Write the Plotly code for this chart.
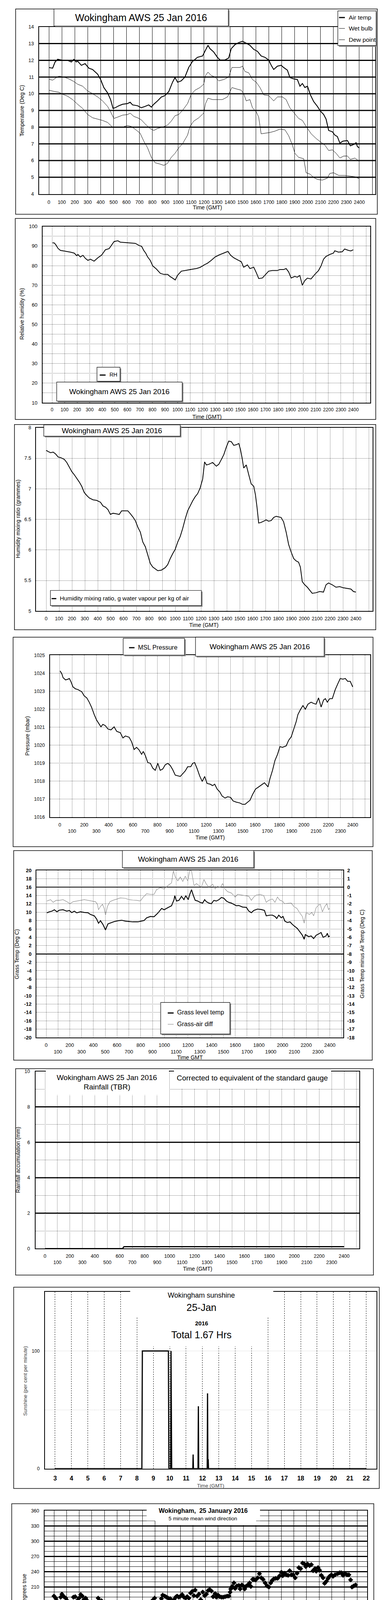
import numpy as np
import plotly.graph_objects as go

# ======================= DATA =======================
# Panel 1: temperatures (time HHMM-style, deg C)
air_temp = [(0,11.57),(29,11.53),(48,11.9),(68,12.06),(106,12.0),(145,12.0),(174,11.9),(193,12.06),(212,11.9),(222,11.95),
            (251,11.7),(280,11.8),(309,11.53),(338,11.45),(377,11.17),(400,10.85),(425,10.37),(454,10.05),(477,9.65),(496,9.12),
            (512,9.16),(541,9.28),(570,9.37),(608,9.41),(628,9.49),(647,9.33),(686,9.28),(714,9.16),(743,9.24),(772,9.33),
            (792,9.2),(811,9.37),(840,9.57),(869,9.8),(898,9.89),(927,10.13),(956,10.69),(975,10.97),(995,10.69),(1023,10.77),
            (1052,11.0),(1081,11.57),(1110,11.93),(1149,12.18),(1188,12.26),(1211,12.62),(1230,12.9),(1245,12.7),(1274,12.5),(1303,12.18),
            (1323,12.02),(1361,12.02),(1390,12.14),(1410,12.7),(1439,12.94),(1468,13.06),(1497,13.14),(1526,13.02),(1554,12.9),(1583,12.66),
            (1612,12.54),(1641,12.26),(1670,12.18),(1699,12.02),(1719,11.7),(1738,11.45),(1767,11.65),(1796,11.7),(1815,11.57),(1844,11.41),
            (1863,10.97),(1892,10.89),(1921,10.85),(1941,10.45),(1960,10.61),(1979,10.37),(1999,10.45),(2022,9.93),(2047,9.53),(2076,9.24),
            (2099,8.96),(2124,8.76),(2143,8.48),(2163,7.8),(2192,7.72),(2211,7.52),(2230,7.44),(2250,7.04),(2273,7.16),(2308,7.2),
            (2331,6.88),(2366,7.0),(2375,7.08),(2385,6.84),(2400,6.75)]
wet_bulb = [(0,10.87),(29,10.81),(58,10.97),(77,11.05),(116,11.0),(154,10.89),(193,10.73),(222,10.57),(261,10.45),(299,10.17),
            (338,10.0),(377,9.81),(415,9.57),(454,9.24),(477,8.92),(502,8.52),(531,8.6),(570,8.72),(608,8.75),(628,8.84),
            (657,8.64),(686,8.56),(714,8.44),(743,8.2),(782,7.92),(811,7.8),(840,7.92),(879,8.0),(917,8.12),(946,8.36),
            (975,8.68),(1004,8.76),(1033,9.0),(1072,9.41),(1101,9.97),(1130,10.21),(1168,10.37),(1197,10.57),(1211,11.09),(1230,11.29),
            (1255,11.09),(1284,11.0),(1313,10.77),(1352,10.85),(1390,11.0),(1415,11.57),(1448,11.57),(1477,11.57),(1497,11.65),(1516,11.33),
            (1545,11.25),(1574,10.85),(1603,10.69),(1632,10.37),(1661,9.93),(1699,9.89),(1738,9.57),(1767,9.81),(1805,9.81),(1834,9.65),
            (1863,9.16),(1892,8.88),(1931,8.52),(1960,8.4),(1989,8.04),(2028,7.6),(2066,7.32),(2099,7.12),(2134,6.92),(2163,6.6),
            (2192,6.64),(2221,6.43),(2250,6.15),(2279,6.27),(2308,6.27),(2331,6.07),(2366,6.15),(2400,5.95)]
dew_point = [(0,10.21),(39,10.14),(77,10.09),(106,9.97),(145,9.85),(183,9.65),(222,9.37),(261,9.12),(299,8.76),(338,8.56),
             (377,8.48),(415,8.4),(454,8.28),(492,8.0),(531,8.0),(570,8.0),(608,8.1),(637,8.04),(666,7.88),(705,7.64),
             (734,7.16),(763,6.76),(792,6.19),(821,5.87),(859,5.79),(888,5.71),(917,5.83),(946,6.19),(975,6.43),(1004,6.76),
             (1033,7.0),(1072,7.52),(1091,8.04),(1120,8.36),(1159,8.56),(1197,8.84),(1211,9.41),(1230,9.73),(1265,9.65),(1303,9.65),
             (1342,9.65),(1381,9.81),(1415,10.37),(1448,10.29),(1487,10.21),(1506,10.0),(1526,9.57),(1554,9.65),(1574,9.16),(1603,8.92),
             (1622,8.6),(1641,7.6),(1670,7.64),(1709,7.68),(1748,7.76),(1786,7.88),(1825,7.84),(1854,7.48),(1883,6.92),(1902,6.43),
             (1931,6.19),(1970,6.11),(1989,5.27),(2018,5.19),(2047,4.99),(2076,4.87),(2114,4.83),(2153,4.95),(2172,5.23),(2201,5.27),
             (2240,5.11),(2288,5.11),(2327,5.07),(2366,5.03),(2400,4.91)]

# Panel 2: relative humidity (%)
rel_hum = [(4,91.7),(18,91.6),(32,90.5),(48,88.8),(67,87.8),(87,87.6),(117,87.3),(147,86.9),(177,86.4),(197,85.1),
           (206,85.7),(226,84.4),(246,85.3),(266,83.7),(286,82.7),(306,83.3),(335,82.3),(365,84.0),(395,85.4),(425,88.1),
           (455,88.7),(474,90.5),(494,92.3),(524,92.7),(544,92.0),(584,91.8),(623,91.6),(663,91.4),(693,90.3),(713,89.9),
           (732,87.6),(746,86.4),(762,84.4),(782,82.7),(802,79.9),(832,78.2),(862,76.1),(891,75.5),(921,75.5),(941,74.4),
           (961,73.6),(981,72.7),(1000,75.1),(1030,77.2),(1060,77.5),(1090,77.9),(1120,78.2),(1149,78.5),(1179,79.1),(1209,80.3),
           (1239,81.3),(1268,82.7),(1298,84.4),(1328,85.4),(1358,86.2),(1388,86.9),(1401,87.3),(1421,85.4),(1447,84.0),(1477,83.0),
           (1507,82.0),(1526,79.2),(1556,80.4),(1576,78.5),(1606,79.2),(1626,76.5),(1646,73.4),(1675,73.7),(1695,75.1),(1725,77.2),
           (1755,77.5),(1794,77.5),(1814,78.0),(1844,78.0),(1864,78.5),(1884,76.8),(1904,73.7),(1933,74.5),(1953,74.1),(1973,75.0),
           (1993,70.0),(2013,72.4),(2033,73.6),(2062,73.2),(2092,75.5),(2122,77.5),(2142,79.9),(2162,83.3),(2181,84.7),(2211,85.7),
           (2241,86.4),(2251,87.6),(2281,86.9),(2311,87.1),(2330,88.5),(2360,87.8),(2380,87.5),(2390,87.9),(2400,88.0)]

# Panel 3: humidity mixing ratio (g/kg)
mix_ratio = [(0,7.63),(15,7.61),(35,7.59),(54,7.6),(73,7.57),(93,7.52),(112,7.51),(141,7.48),(160,7.43),(180,7.35),
             (199,7.28),(218,7.23),(238,7.17),(257,7.11),(276,7.04),(295,6.94),(315,6.89),(334,6.85),(363,6.82),(392,6.81),
             (421,6.78),(440,6.72),(460,6.7),(479,6.66),(498,6.58),(518,6.6),(546,6.59),(566,6.58),(585,6.64),(614,6.64),
             (633,6.64),(653,6.59),(672,6.54),(691,6.48),(711,6.37),(730,6.29),(749,6.13),(769,6.05),(788,5.91),(807,5.78),
             (826,5.72),(846,5.69),(865,5.66),(894,5.67),(923,5.71),(942,5.76),(962,5.86),(981,5.94),(1000,6.01),(1020,6.13),
             (1039,6.22),(1058,6.35),(1078,6.51),(1097,6.64),(1116,6.72),(1135,6.8),(1155,6.87),(1174,6.92),(1193,7.01),(1213,7.16),
             (1228,7.44),(1242,7.39),(1261,7.4),(1290,7.43),(1319,7.37),(1338,7.4),(1358,7.48),(1377,7.56),(1396,7.68),(1415,7.78),
             (1435,7.77),(1454,7.71),(1473,7.72),(1493,7.74),(1506,7.64),(1518,7.51),(1531,7.34),(1551,7.39),(1570,7.23),(1589,7.08),
             (1609,7.04),(1622,6.9),(1634,6.7),(1647,6.44),(1666,6.45),(1686,6.47),(1705,6.49),(1724,6.47),(1744,6.48),(1763,6.53),
             (1782,6.55),(1802,6.54),(1821,6.53),(1840,6.46),(1860,6.29),(1879,6.09),(1898,5.97),(1918,5.86),(1937,5.82),(1956,5.8),
             (1970,5.72),(1985,5.48),(2004,5.43),(2024,5.39),(2043,5.34),(2062,5.29),(2091,5.3),(2120,5.32),(2149,5.31),(2169,5.43),
             (2188,5.46),(2217,5.43),(2246,5.39),(2275,5.4),(2304,5.38),(2333,5.37),(2362,5.36),(2381,5.32),(2400,5.31)]

# Panel 4: MSL pressure (mbar)
msl_pressure = [(2,1024.13),(16,1023.98),(27,1023.75),(47,1023.63),(67,1023.67),(78,1023.71),(92,1023.52),(108,1023.24),(129,1023.13),(149,1023.09),
                (180,1022.97),(200,1022.74),(221,1022.63),(241,1022.39),(262,1022.08),(282,1021.7),(302,1021.39),(323,1021.16),(337,1021.02),(353,1021.16),
                (374,1021.08),(394,1020.9),(419,1020.85),(445,1021.02),(466,1020.77),(496,1020.69),(517,1020.4),(537,1020.51),(568,1020.44),(588,1020.19),
                (609,1019.76),(629,1019.88),(650,1019.73),(670,1019.49),(684,1019.65),(701,1019.42),(721,1019.03),(742,1018.99),(762,1018.72),(782,1018.6),
                (803,1018.99),(823,1018.6),(844,1018.68),(864,1018.91),(885,1018.99),(905,1018.87),(925,1018.64),(946,1018.33),(966,1018.29),(987,1018.26),
                (1007,1018.41),(1028,1018.57),(1048,1018.8),(1073,1018.8),(1089,1018.99),(1105,1019.03),(1126,1018.68),(1146,1018.29),(1167,1017.98),(1187,1018.26),
                (1207,1017.87),(1232,1017.83),(1252,1017.75),(1269,1017.83),(1289,1017.56),(1310,1017.41),(1330,1017.17),(1354,1017.06),(1375,1017.13),(1399,1017.1),
                (1420,1016.9),(1446,1016.83),(1473,1016.79),(1497,1016.71),(1518,1016.71),(1538,1016.83),(1559,1016.94),(1579,1017.25),(1604,1017.56),(1630,1017.68),
                (1651,1017.79),(1677,1017.91),(1692,1017.79),(1706,1017.68),(1722,1018.14),(1743,1018.6),(1763,1019.15),(1784,1019.49),(1804,1019.92),(1824,1019.88),
                (1855,1019.96),(1875,1020.27),(1896,1020.46),(1916,1020.89),(1937,1021.31),(1951,1021.7),(1971,1021.97),(1992,1022.2),(2012,1022.0),(2033,1022.28),
                (2059,1022.39),(2080,1022.32),(2100,1022.28),(2120,1022.63),(2141,1022.12),(2161,1022.51),(2176,1022.59),(2192,1022.39),(2212,1022.59),(2233,1022.59),
                (2257,1023.09),(2277,1023.4),(2298,1023.71),(2319,1023.67),(2339,1023.71),(2359,1023.55),(2380,1023.55),(2400,1023.24)]

# Panel 5: grass temperature (left axis) and grass minus air (right axis)
grass_temp = [(6,9.85),(27,10.1),(49,10.26),(70,10.59),(91,10.1),(112,10.49),(143,10.59),(175,10.26),(196,10.43),(217,9.9),
              (238,10.26),(259,9.85),(291,10.1),(323,9.94),(354,9.88),(375,9.46),(407,9.14),(428,8.34),(443,7.37),(460,7.95),
              (481,7.05),(502,5.77),(523,7.21),(544,7.44),(576,7.76),(607,7.95),(639,8.08),(671,7.86),(702,7.76),(734,7.69),
              (776,7.69),(808,7.86),(829,8.02),(850,8.66),(882,8.98),(913,8.92),(945,9.78),(977,10.91),(998,10.59),(1029,11.07),
              (1061,11.55),(1082,13.0),(1088,13.96),(1103,12.68),(1124,12.84),(1145,13.8),(1166,13.0),(1181,13.96),(1202,13.0),(1215,14.28),
              (1230,15.4),(1244,14.12),(1261,12.84),(1282,12.68),(1303,12.35),(1324,12.19),(1341,13.0),(1356,12.51),(1377,12.19),(1398,12.03),
              (1419,12.84),(1440,12.68),(1462,13.0),(1483,13.54),(1504,13.32),(1525,12.68),(1546,12.35),(1567,12.19),(1588,11.87),(1609,11.55),
              (1630,11.61),(1662,11.23),(1694,11.16),(1715,10.26),(1736,9.88),(1757,10.43),(1788,10.75),(1820,10.65),(1847,10.43),(1862,9.14),
              (1894,9.3),(1915,9.3),(1936,8.98),(1951,8.5),(1968,9.3),(1989,8.66),(2004,8.98),(2020,7.86),(2041,7.53),(2063,7.69),
              (2084,7.05),(2105,6.57),(2126,6.09),(2147,5.29),(2168,4.48),(2183,3.52),(2193,4.64),(2221,4.16),(2242,4.32),(2263,3.68),
              (2284,4.48),(2305,4.8),(2326,5.13),(2343,4.0),(2368,4.32),(2379,4.96),(2389,4.1),(2400,4.32)]
grass_air_diff = [(6,-1.66),(38,-1.5),(59,-1.82),(84,-1.58),(112,-1.58),(143,-1.5),(175,-1.74),(202,-1.98),(228,-1.74),(259,-1.66),
                  (291,-1.58),(323,-1.5),(354,-1.58),(386,-1.66),(418,-1.74),(434,-2.06),(443,-2.7),(460,-2.3),(477,-2.06),(491,-2.55),
                  (502,-3.35),(519,-2.3),(540,-1.74),(565,-1.58),(597,-1.42),(628,-1.29),(671,-1.34),(702,-1.5),(734,-1.55),(766,-1.58),
                  (797,-1.66),(822,-1.18),(850,-0.78),(882,-0.86),(913,-0.86),(934,-0.3),(966,-0.06),(998,-0.22),(1029,0.18),(1061,0.51),
                  (1076,1.95),(1092,1.23),(1114,0.75),(1135,1.23),(1156,0.67),(1177,1.31),(1198,0.75),(1215,2.0),(1230,1.95),(1251,0.18),
                  (1272,0.43),(1293,0.18),(1314,0.02),(1335,0.91),(1356,0.35),(1377,0.02),(1409,0.35),(1430,-0.22),(1451,0.1),(1472,-0.06),
                  (1493,0.43),(1514,-0.22),(1535,-0.54),(1567,-0.7),(1599,-1.18),(1620,-0.86),(1651,-0.94),(1683,-1.02),(1715,-1.1),(1736,-1.58),
                  (1757,-1.18),(1778,-0.94),(1810,-0.86),(1841,-1.02),(1862,-1.82),(1883,-1.58),(1915,-1.42),(1936,-1.82),(1957,-1.18),(1978,-1.58),
                  (1999,-1.66),(2016,-1.98),(2041,-1.94),(2073,-1.9),(2094,-2.3),(2122,-2.55),(2147,-3.11),(2168,-3.51),(2183,-4.31),(2200,-3.03),
                  (2227,-3.27),(2248,-3.03),(2263,-3.43),(2284,-2.47),(2305,-2.14),(2320,-2.06),(2337,-2.95),(2358,-2.3),(2375,-1.98),(2389,-2.7),
                  (2400,-2.47)]

# Panel 6: rainfall accumulation (mm)
rain_accum = [(0,0.0),(622,0.0),(634,0.11),(2400,0.11)]

# Panel 7: sunshine (per cent per minute), time in hours
sunshine = [(3.0,0),(8.30,0),(8.33,100),(9.92,100),(9.95,0),(10.06,0),(10.08,100),(10.10,45),(10.12,0),
            (11.41,0),(11.43,12),(11.45,0),(11.73,0),(11.75,53),(11.77,0),(12.29,0),(12.31,64),(12.33,0),
            (12.35,8),(12.37,0),(22.0,0)]

# Panel 8: 5-minute mean wind direction (hours, degrees)
wind_dir = [(0.0,192),(0.14,188),(0.26,182),(0.4,175),(0.53,190),(0.63,196),(0.79,191),(0.93,188),(1.05,183),(1.13,177),
            (1.29,175),(1.44,180),(1.54,190),(1.68,191),(1.84,183),(1.98,188),(2.12,195),(2.24,192),(2.37,185),(2.51,188),
            (2.63,183),(2.77,177),(2.91,173),(3.03,162),(3.17,168),(3.3,167),(3.42,174),(3.5,188),(3.62,182),(3.76,183),
            (3.86,178),(4.0,170),(4.13,152),(4.25,174),(4.41,171),(4.55,176),(4.65,167),(4.75,144),(4.89,150),(5.0,161),
            (5.14,158),(5.28,155),(5.4,157),(5.54,154),(5.68,153),(5.8,155),(5.94,157),(6.07,149),(6.19,163),(6.33,165),
            (6.43,167),(6.53,162),(6.67,157),(6.79,177),(6.93,163),(7.02,167),(7.16,154),(7.28,170),(7.42,174),(7.58,166),
            (7.72,176),(7.82,184),(7.97,188),(8.11,175),(8.25,172),(8.37,178),(8.51,187),(8.61,194),(8.77,192),(8.9,190),
            (9.04,188),(9.2,187),(9.36,180),(9.5,185),(9.64,190),(9.75,192),(9.89,190),(10.03,192),(10.15,195),(10.29,190),
            (10.43,188),(10.55,191),(10.68,188),(10.82,198),(10.94,201),(11.08,193),(11.18,204),(11.34,192),(11.48,196),(11.62,185),
            (11.78,200),(11.93,193),(12.07,196),(12.21,203),(12.33,205),(12.47,202),(12.6,191),(12.76,197),(12.86,190),(13.0,194),
            (13.12,191),(13.26,190),(13.4,190),(13.55,191),(13.71,192),(13.85,192),(13.95,200),(14.0,206),(14.11,211),(14.25,218),
            (14.35,207),(14.48,212),(14.64,213),(14.74,206),(14.88,214),(14.98,212),(15.1,206),(15.24,212),(15.37,214),(15.49,218),
            (15.59,211),(15.73,225),(15.83,225),(15.97,224),(16.13,228),(16.27,236),(16.42,228),(16.56,225),(16.72,218),(16.88,212),
            (17.02,210),(17.16,218),(17.28,223),(17.42,226),(17.56,227),(17.71,227),(17.87,232),(18.01,239),(18.11,232),(18.26,237),
            (18.4,234),(18.54,233),(18.66,242),(18.8,234),(18.94,234),(19.1,228),(19.25,237),(19.39,248),(19.53,246),(19.69,257),
            (19.83,255),(19.94,250),(20.08,255),(20.24,252),(20.38,254),(20.52,242),(20.67,246),(20.77,241),(20.91,248),(21.03,243),
            (21.17,233),(21.31,228),(21.43,217),(21.57,221),(21.71,227),(21.83,231),(21.97,234),(22.1,231),(22.26,234),(22.46,236),
            (22.62,238),(22.75,238),(22.89,233),(23.05,236),(23.21,234),(23.35,234),(23.49,224),(23.6,210),(23.74,212),(23.88,214)]

# Panel 9: wind speed (knots), hours
wind_mean = [(0.04,5.1),(0.23,6.3),(0.37,7.4),(0.56,7.2),(0.75,6.8),(0.95,6.9),(1.14,7.4),(1.33,8.8),(1.43,9.7),(1.62,8.3),
             (1.85,7.0),(2.1,6.8),(2.3,7.4),(2.49,6.5),(2.68,7.1),(2.87,6.5),(3.07,7.2),(3.26,9.2),(3.45,8.8),(3.65,7.6),
             (3.84,6.8),(4.03,5.6),(4.23,5.0),(4.42,3.7),(4.61,3.6),(4.8,3.4),(5.0,4.8),(5.19,6.5),(5.38,7.2),(5.58,7.6),
             (5.77,6.8),(5.96,8.1),(6.15,8.3),(6.35,7.4),(6.54,6.8),(6.73,7.9),(6.93,6.8),(7.12,7.2),(7.37,9.0),(7.56,7.2),
             (7.79,7.6),(8.08,7.8),(8.37,6.5),(8.61,7.4),(8.86,8.3),(9.15,9.5),(9.43,7.4),(9.69,7.9),(9.92,9.7),(10.15,9.2),
             (10.4,9.5),(10.65,9.0),(10.88,7.1),(11.11,8.3),(11.36,9.9),(11.61,9.2),(11.85,9.9),(12.14,10.1),(12.43,10.8),(12.71,10.4),
             (12.97,10.6),(13.1,12.6),(13.39,11.9),(13.68,9.2),(13.97,9.0),(14.26,11.5),(14.51,11.0),(14.74,12.8),(15.03,14.0),(15.32,14.7),
             (15.55,15.1),(15.8,15.8),(15.99,15.3),(16.25,15.1),(16.48,14.2),(16.67,16.2),(16.86,14.0),(17.06,12.8),(17.25,14.0),(17.44,11.7),
             (17.73,11.9),(17.92,12.8),(18.17,11.3),(18.41,12.4),(18.6,13.5),(18.79,10.8),(18.99,9.7),(19.18,11.3),(19.41,9.9),(19.56,11.0),
             (19.85,8.6),(20.05,10.6),(20.3,14.0),(20.49,9.7),(20.72,7.9),(21.01,6.8),(21.3,6.8),(21.59,5.9),(21.84,5.6),(22.07,6.3),
             (22.27,6.1),(22.5,5.0),(22.75,6.5),(23.04,7.4),(23.27,7.2),(23.52,6.8),(23.71,6.1),(23.9,4.7),(24.0,4.8)]
# max gust, one value per 6 minutes (10 per hour), read peak/trough by peak/trough
wind_gust = [8.2, 9.5, 12.3, 8.8, 13.4, 9.0, 11.8, 9.6, 12.6, 9.2,
             13.8, 8.7, 12.9, 10.1, 15.3, 9.4, 13.1, 8.9, 12.2, 9.8,
             14.8, 8.4, 12.7, 9.1, 13.9, 8.6, 15.0, 9.2, 12.1, 8.3,
             13.2, 9.5, 14.9, 10.2, 15.0, 9.8, 12.6, 8.9, 11.4, 7.6,
             9.8, 6.2, 8.9, 4.5, 7.8, 3.1, 8.2, 4.3, 9.1, 5.2,
             11.6, 6.8, 12.4, 7.5, 10.9, 8.3, 12.8, 7.2, 11.5, 8.6,
             13.4, 7.9, 12.1, 8.8, 14.3, 7.4, 11.9, 8.2, 13.1, 7.0,
             12.2, 8.6, 13.5, 7.7, 11.8, 8.9, 13.9, 7.3, 12.4, 6.4,
             11.8, 7.5, 13.2, 8.1, 12.0, 9.2, 13.5, 8.4, 12.9, 9.0,
             14.8, 8.6, 12.7, 9.5, 13.9, 8.9, 16.6, 9.8, 13.5, 10.4,
             17.4, 9.6, 14.2, 10.8, 13.8, 9.3, 15.1, 10.6, 13.9, 8.8,
             12.8, 10.4, 14.6, 11.1, 16.4, 10.7, 14.9, 11.6, 15.8, 10.9,
             16.2, 11.2, 17.9, 11.8, 15.4, 12.1, 17.3, 11.5, 15.9, 13.6,
             22.4, 13.2, 18.1, 11.4, 16.6, 10.8, 17.9, 12.6, 19.4, 13.1,
             21.5, 14.6, 23.8, 15.2, 20.1, 16.4, 24.1, 15.8, 21.7, 17.2,
             25.2, 16.8, 28.2, 17.5, 23.6, 18.3, 27.5, 16.9, 24.8, 19.4,
             26.3, 15.6, 29.1, 17.2, 24.4, 14.8, 25.7, 16.1, 22.3, 15.2,
             24.6, 13.7, 20.8, 14.5, 22.1, 12.9, 19.6, 13.8, 20.4, 12.4,
             18.6, 12.1, 19.7, 11.5, 17.2, 12.6, 18.4, 11.2, 16.5, 10.6,
             17.8, 10.1, 15.9, 9.6, 16.8, 10.8, 15.2, 9.4, 14.6, 11.3,
             21.3, 13.1, 23.4, 12.2, 17.6, 10.4, 15.8, 9.2, 14.4, 8.1,
             12.6, 7.3, 11.8, 6.9, 10.6, 7.5, 11.9, 6.6, 10.4, 7.2,
             11.1, 6.5, 9.8, 7.4, 10.5, 6.2, 11.8, 7.8, 12.9, 8.4,
             12.6, 7.1, 11.4, 8.2, 10.3, 6.5, 9.4, 5.6, 7.6, 6.2,
             6.5]
speed_div10 = [(4.63,40.0),(4.42,37.9),(4.52,38.5),(4.61,38.1),(4.80,38.0),(4.46,37.3),(4.67,36.7),
               (4.48,36.3),(4.61,35.8),(4.77,35.8),(4.80,34.3),(4.71,33.7),(4.75,32.6)]

# Tick values / labels
time_ticks = list(range(0, 2600, 100))                     # 0 .. 2500
time_labels = [str(v) if v <= 2400 else '' for v in time_ticks]
time_labels_2row = [('' if v > 2400 else (str(v) if (v // 100) % 2 == 0 else '<br>' + str(v))) for v in time_ticks]
grass_left_ticks = list(range(-20, 21, 2))
grass_right_ticks = list(range(-18, 3))
sun_hours = list(range(3, 23))
dir_hours = list(range(0, 25))
speed_hours = list(range(0, 26))
speed_labels = [('' if h > 23 else ('%02d:00' % h if h % 2 == 0 else '<br>%02d:00' % h)) for h in speed_hours]

# ======================= FIGURE =======================
W, H = 1000, 5000
FONT = "Liberation Sans, Arial, Helvetica, sans-serif"
DOT = "1px,2px"

def X(p): return p / W
def Y(p): return 1 - p / H

shapes, annos, traces = [], [], []
layout = dict(width=W, height=H, autosize=False, margin=dict(l=0, r=0, t=0, b=0, pad=0),
              paper_bgcolor='white', plot_bgcolor='white', showlegend=False,
              font=dict(family=FONT, color='black', size=12))

def names(n):
    s = '' if n == 1 else str(n)
    return 'xaxis' + s, 'yaxis' + s, 'x' + s, 'y' + s

def panel(n, box, xr, yr, xkw, ykw):
    l, t, r, b = box
    xa, ya, xs, ys = names(n)
    base = dict(showline=True, linecolor='black', linewidth=1.5, mirror=True, ticks='',
                zeroline=False, tickangle=0, fixedrange=True)
    xd = dict(base, domain=[X(l), X(r)], range=xr, anchor=ys)
    xd.update(xkw)
    yd = dict(base, domain=[Y(b), Y(t)], range=yr, anchor=xs)
    yd.update(ykw)
    layout[xa] = xd
    layout[ya] = yd
    return xs, ys

def line(series, xs, ys, color='black', width=2):
    t, v = zip(*series)
    traces.append(go.Scatter(x=list(t), y=list(v), mode='lines', xaxis=xs, yaxis=ys,
                             line=dict(color=color, width=width), hoverinfo='skip'))

def axis_hline(xs, ys, val, width=2.5, color='black'):
    shapes.append(dict(type='line', xref=xs + ' domain', yref=ys, x0=0, x1=1, y0=val, y1=val,
                       line=dict(color=color, width=width), layer='below'))

def rect(x0, y0, x1, y1, lw=1.2, fill='rgba(0,0,0,0)', lc='black', layer='above'):
    shapes.append(dict(type='rect', xref='paper', yref='paper', x0=X(x0), x1=X(x1), y0=Y(y1), y1=Y(y0),
                       line=dict(color=lc, width=lw), fillcolor=fill, layer=layer))

def white(x0, y0, x1, y1):
    rect(x0, y0, x1, y1, lw=0, fill='white', lc='white')

def boxed(x0, y0, x1, y1, sh=3):
    rect(x0 + sh, y0 + sh, x1 + sh, y1 + sh, lw=0, fill='#8a8a8a', lc='#8a8a8a')
    rect(x0, y0, x1, y1, lw=1.2, fill='white')

def outer(x0, y0, x1, y1):
    rect(x0, y0, x1, y1, lw=1.5, layer='below')

def seg(x0, y0, x1, y1, width=2, color='black'):
    shapes.append(dict(type='line', xref='paper', yref='paper', x0=X(x0), x1=X(x1), y0=Y(y0), y1=Y(y1),
                       line=dict(color=color, width=width), layer='above'))

def text(x, y, s, size=12, color='black', anchor='center', bold=False, angle=0):
    annos.append(dict(xref='paper', yref='paper', x=X(x), y=Y(y), text=('<b>%s</b>' % s) if bold else s,
                      showarrow=False, xanchor=anchor, yanchor='middle', textangle=angle,
                      font=dict(size=size, color=color, family=FONT)))

# ---------- Panel 1 : temperatures ----------
outer(32, 8, 957, 535)
xs, ys = panel(1, (92, 54, 952, 483), [-75.6, 2524], [4, 14],
               dict(tickmode='array', tickvals=time_ticks, ticktext=time_labels, showgrid=True,
                    gridcolor='black', gridwidth=1, tickfont=dict(size=12.5), ticklabelstandoff=9),
               dict(tickmode='array', tickvals=list(range(4, 15)), showgrid=False,
                    tickfont=dict(size=12.5), ticklabelstandoff=9))
for v in range(5, 14):
    axis_hline(xs, ys, v, width=3)
line(dew_point, xs, ys, width=1)
line(wet_bulb, xs, ys, width=1)
line(air_temp, xs, ys, width=2.2)
boxed(130, 8, 576, 52)
text(353, 30, 'Wokingham AWS 25 Jan 2016', size=25)
boxed(856, 13, 954, 102)
seg(859, 30, 874, 30, width=3)
seg(859, 58, 874, 58, width=1)
seg(859, 87, 874, 87, width=1)
text(882, 30, 'Air temp', size=15.5, anchor='left')
text(882, 58, 'Wet bulb', size=15.5, anchor='left')
text(882, 87, 'Dew point', size=15.5, anchor='left')
text(48, 269, 'Temperature (Deg C)', size=14, angle=-90)
text(522, 518, 'Time (GMT)', size=14)

# ---------- Panel 2 : relative humidity ----------
outer(31, 546, 953, 1062)
xs, ys = panel(2, (101, 566.5, 939, 1019), [-74.7, 2534], [10, 100],
               dict(tickmode='array', tickvals=time_ticks, ticktext=time_labels, showgrid=True,
                    gridcolor='black', gridwidth=1, griddash=DOT, tickfont=dict(size=12), ticklabelstandoff=6),
               dict(tickmode='linear', tick0=10, dtick=10, showgrid=True, gridcolor='black', griddash=DOT,
                    minor=dict(dtick=5, tick0=0, showgrid=True, gridcolor='black', griddash=DOT, gridwidth=1),
                    tickfont=dict(size=13), ticklabelstandoff=9))
line(rel_hum, xs, ys, width=2)
boxed(240, 928, 299, 964)
seg(247, 948, 262, 948, width=3)
text(270, 947, 'RH', size=14, anchor='left')
boxed(137, 966, 458, 1015)
text(297, 990, 'Wokingham AWS 25 Jan 2016', size=19)
text(48, 791, 'Relative humidity (%)', size=14, angle=-90)
text(521, 1055, 'Time (GMT)', size=14)

# ---------- Panel 3 : mixing ratio ----------
outer(29, 1075, 953, 1602)
xs, ys = panel(3, (84, 1083, 945, 1554), [-78.8, 2530], [5, 8],
               dict(tickmode='array', tickvals=time_ticks, ticktext=time_labels, showgrid=True,
                    gridcolor='black', gridwidth=1, griddash=DOT, tickfont=dict(size=12.5), ticklabelstandoff=7),
               dict(tickmode='array', tickvals=[5, 5.5, 6, 6.5, 7, 7.5, 8],
                    ticktext=['5', '5.5', '6', '6.5', '7', '7.5', '8'], showgrid=True, gridcolor='black',
                    griddash=DOT, tickfont=dict(size=12.5), ticklabelstandoff=8))
line(mix_ratio, xs, ys, width=2)
boxed(104, 1076, 453, 1105)
text(278, 1091, 'Wokingham AWS 25 Jan 2016', size=19)
boxed(121, 1501, 507, 1540)
seg(124, 1522, 136, 1522, width=3)
text(143, 1521, 'Humidity mixing ratio, g water vapour per kg of air', size=15, anchor='left')
text(38, 1318, 'Humidity mixing ratio (grammes)', size=14, angle=-90)
text(513, 1590, 'Time (GMT)', size=14)

# ---------- Panel 4 : pressure ----------
outer(25.5, 1621, 946, 2159)
xs, ys = panel(4, (120, 1667.5, 939, 2083), [-80, 2544], [1016, 1025],
               dict(tickmode='array', tickvals=time_ticks, ticktext=time_labels_2row, showgrid=True,
                    gridcolor='black', gridwidth=1, griddash=DOT, tickfont=dict(size=12.5), ticklabelstandoff=7),
               dict(tickmode='linear', tick0=1016, dtick=1, showgrid=True, gridcolor='black', griddash=DOT,
                    tickfont=dict(size=12.5), ticklabelstandoff=9))
line(msl_pressure, xs, ys, width=2)
boxed(307, 1624, 464, 1667)
seg(322, 1648, 336, 1648, width=3)
text(343, 1647, 'MSL Pressure', size=16, anchor='left')
boxed(492, 1621, 821, 1670)
text(656, 1645, 'Wokingham AWS 25 Jan 2016', size=19)
text(62, 1875, 'Pressure (mbar)', size=14, angle=-90)
text(529, 2135, 'Time (GMT)', size=14)

# ---------- Panel 5 : grass temperature ----------
outer(27, 2169, 944, 2707)
xs, ys = panel(5, (85, 2220, 870, 2649), [-82.7, 2514], [-20, 20],
               dict(tickmode='array', tickvals=time_ticks, ticktext=time_labels_2row, showgrid=True,
                    gridcolor='black', gridwidth=1, griddash=DOT, tickfont=dict(size=13), ticklabelstandoff=7),
               dict(tickmode='array', tickvals=grass_left_ticks, ticktext=[str(v) for v in grass_left_ticks],
                    showgrid=True, gridcolor='black', griddash=DOT,
                    tickfont=dict(size=13, weight='bold'), ticklabelstandoff=8))
layout['yaxis10'] = dict(overlaying='y5', anchor='x5', side='right', range=[-18, 2], tickmode='array',
                         tickvals=grass_right_ticks, ticktext=[str(v) for v in grass_right_ticks],
                         showgrid=False, zeroline=False, showline=False, ticks='',
                         tickfont=dict(size=13, weight='bold'), ticklabelstandoff=9, fixedrange=True)
axis_hline(xs, ys, 16, width=2)
axis_hline(xs, ys, 0, width=2.5)
line(grass_air_diff, xs, 'y10', color='#8c8c8c', width=1.2)
line(grass_temp, xs, ys, width=2.2)
boxed(305, 2169, 641, 2213)
text(473, 2191, 'Wokingham AWS 25 Jan 2016', size=19)
boxed(403, 2559, 580, 2640)
seg(421, 2586, 436, 2586, width=3)
seg(421, 2615, 436, 2615, width=1.2, color='#8c8c8c')
text(443, 2584, 'Grass level temp', size=16, anchor='left')
text(443, 2614, 'Grass-air diff', size=16, anchor='left')
text(35, 2435, 'Grass Temp (Deg C)', size=14, angle=-90)
text(918, 2435, 'Grass Temp minus Air Temp (Deg C)', size=14, angle=-90)
text(478, 2700, 'Time GMT', size=14)

# ---------- Panel 6 : rainfall ----------
outer(32, 2729, 947, 3259)
xs, ys = panel(6, (83, 2736, 911, 3191), [-75.3, 2522], [0, 10],
               dict(tickmode='array', tickvals=time_ticks, ticktext=time_labels_2row, showgrid=True,
                    gridcolor='black', gridwidth=1, griddash=DOT, tickfont=dict(size=12.5), ticklabelstandoff=7),
               dict(tickmode='linear', tick0=0, dtick=2, showgrid=False,
                    minor=dict(dtick=1, tick0=0, showgrid=True, gridcolor='black', griddash=DOT, gridwidth=1),
                    tickfont=dict(size=12.5), ticklabelstandoff=10))
for v in (2, 4, 6, 8):
    axis_hline(xs, ys, v, width=3)
line(rain_accum, xs, ys, width=3)
white(109, 2733, 424, 2797)
white(437, 2733, 839, 2780)
text(265, 2752, 'Wokingham AWS 25 Jan 2016', size=19)
text(265, 2776, 'Rainfall (TBR)', size=19)
text(637, 2753, 'Corrected to equivalent of the standard gauge', size=19)
text(38, 2963, 'Rainfall accumulation (mm)', size=14, angle=-90)
text(497, 3243, 'Time (GMT)', size=14)

# ---------- Panel 7 : sunshine ----------
outer(27, 3290, 962, 3807)
xs, ys = panel(7, (106.5, 3302, 955, 3756), [2.37, 22.63], [0, 150.3],
               dict(tickmode='array', tickvals=sun_hours, showgrid=True, gridcolor='black', gridwidth=1,
                    griddash='3px,3px', tickfont=dict(size=16, weight='bold'), ticklabelstandoff=9),
               dict(tickmode='array', tickvals=[0, 50, 100], ticktext=['0', '', '100'], showgrid=True,
                    gridcolor='#b0b0b0', griddash=DOT, tickfont=dict(size=12), ticklabelstandoff=9))
line(sunshine, xs, ys, width=3)
white(325, 3299, 691, 3365)
white(346, 3364, 673, 3442)
text(507, 3311, 'Wokingham sunshine', size=18)
text(507, 3342, '25-Jan', size=25)
text(507, 3383, '2016', size=15, bold=True)
text(507, 3412, 'Total 1.67 Hrs', size=25)
text(56, 3531, 'Sunshine (per cent per minute)', size=13, color='#444444', angle=-90)
text(531, 3800, 'Time (GMT)', size=13, color='#444444')

# ---------- Panel 8 : wind direction ----------
outer(22, 3846, 948, 4379)
xs, ys = panel(8, (105.5, 3864, 931, 4334), [-0.76, 24.8], [0, 360],
               dict(tickmode='array', tickvals=dir_hours, showgrid=True, gridcolor='black', gridwidth=1,
                    tickfont=dict(size=12.5), ticklabelstandoff=5),
               dict(tickmode='linear', tick0=0, dtick=30, showgrid=False,
                    minor=dict(dtick=10, tick0=0, showgrid=True, gridcolor='black', gridwidth=1),
                    tickfont=dict(size=12.5), ticklabelstandoff=9))
for v in range(30, 360, 30):
    axis_hline(xs, ys, v, width=3)
h, d = zip(*wind_dir)
traces.append(go.Scatter(x=list(h), y=list(d), mode='markers', xaxis=xs, yaxis=ys, hoverinfo='skip',
                         marker=dict(symbol='diamond', size=10, color='black')))
white(367, 3857, 657, 3890)
white(389, 3889, 647, 3901)
text(511, 3864, 'Wokingham,  25 January 2016', size=16, bold=True)
text(511, 3884, '5 minute mean wind direction', size=13.5)
text(54, 4097, 'Direction, degrees true', size=14, angle=-90)
text(518, 4366, 'Time (GMT)', size=14)

# ---------- Panel 9 : wind speed ----------
outer(23.6, 4392.5, 950, 4905)
xs, ys = panel(9, (81.6, 4436, 944, 4832.5), [-0.74, 25.36], [0, 50],
               dict(tickmode='array', tickvals=speed_hours, ticktext=speed_labels, showgrid=True,
                    gridcolor='black', gridwidth=1, griddash='3px,2px', tickfont=dict(size=12.5), ticklabelstandoff=7),
               dict(tickmode='linear', tick0=0, dtick=10, showgrid=True, gridcolor='black', griddash=DOT,
                    minor=dict(dtick=5, tick0=0, showgrid=True, gridcolor='black', griddash=DOT, gridwidth=1),
                    tickfont=dict(size=12.5), ticklabelstandoff=9))
gust_h = list(np.round(np.arange(len(wind_gust)) * 0.1, 2))
traces.append(go.Scatter(x=gust_h, y=wind_gust, mode='lines', xaxis=xs, yaxis=ys, hoverinfo='skip',
                         line=dict(color='#5a5a5a', width=1)))
line(wind_mean, xs, ys, width=2.2)
h, s = zip(*speed_div10)
traces.append(go.Scatter(x=list(h), y=list(s), mode='markers', xaxis=xs, yaxis=ys, hoverinfo='skip',
                         marker=dict(symbol='diamond', size=9, color='#c8c8c8', line=dict(color='#505050', width=1))))
white(87, 4432, 427, 4439)
text(257, 4416, 'Wokingham,  25 January 2016', size=19)
text(566, 4405, 'Wind speed, 10 min mean / max gust', size=15)
text(566, 4423, 'Speeds below 4 kt shown at x10 scale', size=15)
boxed(722, 4398, 945, 4424, sh=2)
seg(754, 4413, 765, 4413, width=3)
text(773, 4411, 'Speed x 1', size=11.5, anchor='left')
shapes.append(dict(type='path', xref='paper', yref='paper', layer='above',
                   path='M %f %f L %f %f L %f %f L %f %f Z' % (X(846), Y(4406), X(850), Y(4411), X(846), Y(4416), X(842), Y(4411)),
                   fillcolor='#c8c8c8', line=dict(color='#505050', width=1)))
text(859, 4411, 'Speed / 10', size=11.5, anchor='left')
text(38, 4634, 'Speed (knots)', size=14, angle=-90)
text(520, 4886, 'Time (GMT)', size=14)

layout['shapes'] = shapes
layout['annotations'] = annos
fig = go.Figure(data=traces, layout=layout)
fig.write_html("out.html")
